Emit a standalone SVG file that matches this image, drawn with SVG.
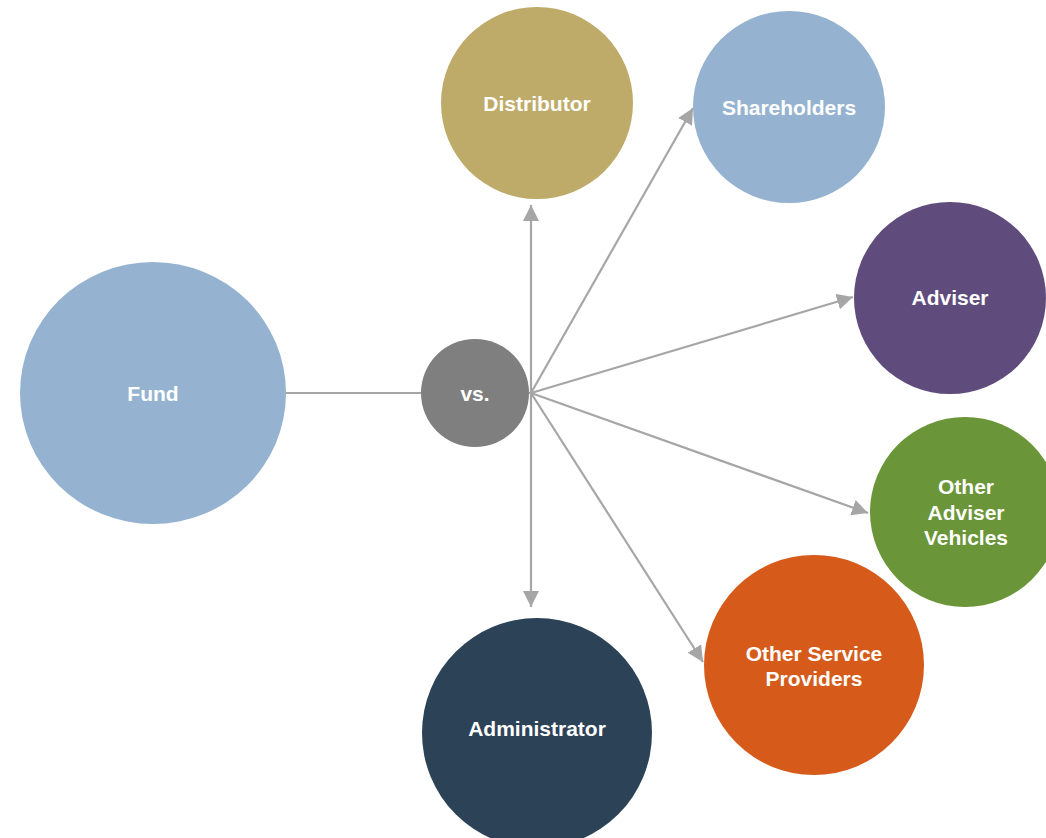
<svg xmlns="http://www.w3.org/2000/svg" width="1046" height="838" viewBox="0 0 1046 838">
  <style>
    .lbl { font-family: "Liberation Sans", Arial, sans-serif; font-weight: bold; font-size: 21px; fill: #ffffff; text-anchor: middle; }
    .conn { stroke: #a6a6a6; stroke-width: 2.2; fill: none; }
    .arr { marker-end: url(#head); }
  </style>
  <defs>
    <marker id="head" markerUnits="userSpaceOnUse" markerWidth="16" markerHeight="16" refX="16" refY="8" orient="auto">
      <path d="M0,0 L16,8 L0,16 z" fill="#a6a6a6"/>
    </marker>
  </defs>
  <rect width="1046" height="838" fill="#ffffff"/>

  <g id="connectors">
    <line class="conn" x1="286" y1="393" x2="531" y2="393"/>
    <line class="conn arr" x1="531" y1="393" x2="531" y2="205"/>
    <line class="conn arr" x1="531" y1="393" x2="531" y2="607"/>
    <line class="conn arr" x1="531" y1="393" x2="693" y2="108"/>
    <line class="conn arr" x1="531" y1="393" x2="853" y2="297"/>
    <line class="conn arr" x1="531" y1="393" x2="868" y2="513"/>
    <line class="conn arr" x1="531" y1="393" x2="703" y2="662"/>
  </g>

  <g id="fund">
    <ellipse cx="153" cy="393" rx="133" ry="131" fill="#95b3d0"/>
    <text class="lbl" x="153" y="401">Fund</text>
  </g>
  <g id="vs">
    <circle cx="475" cy="393" r="54" fill="#7f7f7f"/>
    <text class="lbl" x="475" y="401">vs.</text>
  </g>
  <g id="distributor">
    <circle cx="537" cy="103" r="96" fill="#bfab69"/>
    <text class="lbl" x="537" y="111">Distributor</text>
  </g>
  <g id="shareholders">
    <circle cx="789" cy="107" r="96" fill="#95b3d0"/>
    <text class="lbl" x="789" y="115">Shareholders</text>
  </g>
  <g id="adviser">
    <circle cx="950" cy="298" r="96" fill="#604c7c"/>
    <text class="lbl" x="950" y="305">Adviser</text>
  </g>
  <g id="other-adviser-vehicles">
    <circle cx="965" cy="512" r="95" fill="#6a9538"/>
    <text class="lbl" x="966" y="494">Other</text>
    <text class="lbl" x="966" y="520">Adviser</text>
    <text class="lbl" x="966" y="545">Vehicles</text>
  </g>
  <g id="other-service-providers">
    <circle cx="814" cy="665" r="110" fill="#d65b1a"/>
    <text class="lbl" x="814" y="661">Other Service</text>
    <text class="lbl" x="814" y="686">Providers</text>
  </g>
  <g id="administrator">
    <circle cx="537" cy="733" r="115" fill="#2c4257"/>
    <text class="lbl" x="537" y="736">Administrator</text>
  </g>
</svg>
